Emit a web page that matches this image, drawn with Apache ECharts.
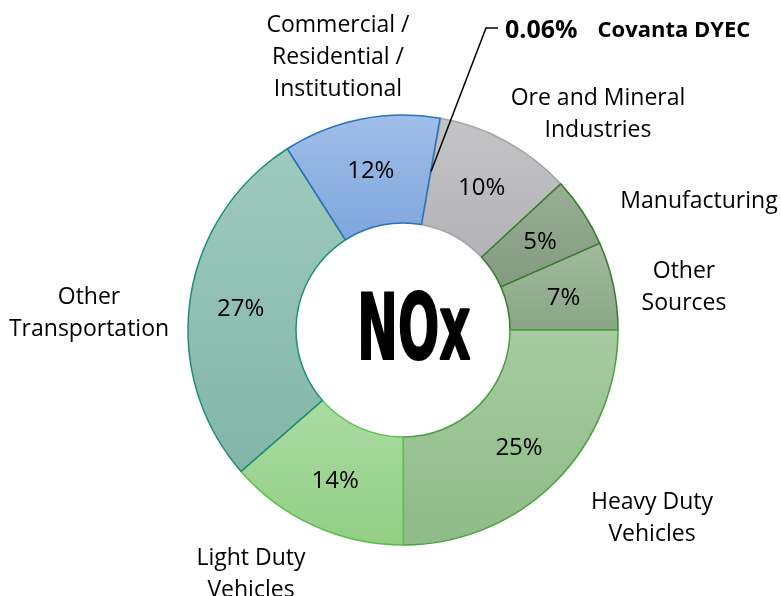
<!DOCTYPE html>
<html>
<head>
<meta charset="utf-8">
<title>NOx sources</title>
<script src="https://cdn.jsdelivr.net/npm/echarts@6/dist/echarts.min.js"></script>
<style>
  html, body { margin: 0; padding: 0; background: #fff; }
  #chart { width: 781px; height: 596px; }
</style>
</head>
<body>
<div id="chart"></div>
<script>
// Slices in clockwise order, starting just right of 12 o'clock
const categories = [
  'Covanta DYEC',
  'Ore and Mineral Industries',
  'Manufacturing',
  'Other Sources',
  'Heavy Duty Vehicles',
  'Light Duty Vehicles',
  'Other Transportation',
  'Commercial / Residential / Institutional'
];
const values = [0.06, 10.3, 5.3, 6.6, 25, 13.6, 27.4, 11.8];
const labelNames = [
  'Covanta DYEC',
  'Ore and Mineral\nIndustries',
  'Manufacturing',
  'Other\nSources',
  'Heavy Duty\nVehicles',
  'Light Duty\nVehicles',
  'Other\nTransportation',
  'Commercial /\nResidential /\nInstitutional'
];

// fill gradients (top, bottom) and outlines
const fillTop = ['#c4c4c7', '#c4c4c7', '#99af95', '#a1bb9c', '#a7cba1', '#abdba3', '#9fcabd', '#a1bee9'];
const fillBottom = ['#b3b3b7', '#b3b3b7', '#849a80', '#8aa686', '#8ebb87', '#92cf84', '#82b6a8', '#7ea6dc'];
const borders = ['#a3a3a3', '#a3a3a3', '#3b7a2f', '#3b7a2f', '#4aa040', '#5cbf4c', '#1a9078', '#2472c0'];

// outside label anchors [x, y, align]
const labelAnchors = [
  [505, 31, 'left'],
  [598, 114],
  [699, 201],
  [684, 287],
  [652, 518],
  [251, 574],
  [89, 313],
  [338, 57]
];

const center = [403, 330];
const radius = [107, 215];
const fontFamily = '"Open Sans", "Noto Sans", sans-serif';

const chart = echarts.init(document.getElementById('chart'));

const total = values.reduce((a, b) => a + b, 0);
// Heavy Duty Vehicles begins at 3 o'clock
const startAngle = 360 * values.slice(0, 4).reduce((a, b) => a + b, 0) / total;

// leader line for the Covanta sliver starts mid-ring
const covMid = (startAngle - 180 * values[0] / total) * Math.PI / 180;
const midR = (radius[0] + radius[1]) / 2;
const covStart = [center[0] + midR * Math.cos(covMid), center[1] - midR * Math.sin(covMid)];

const ringData = values.map((v, i) => ({
  name: categories[i],
  value: v,
  itemStyle: {
    color: {
      type: 'linear', x: 0, y: 0, x2: 0, y2: 1,
      colorStops: [
        { offset: 0, color: fillTop[i] },
        { offset: 1, color: fillBottom[i] }
      ]
    },
    borderColor: borders[i],
    borderWidth: 1.5
  },
  label: { show: i !== 0 }
}));

const outerData = values.map((v, i) => ({
  name: categories[i],
  value: v,
  labelLine: { show: i === 0, lineStyle: { color: '#000', width: 1.5 } }
}));

chart.setOption({
  animation: false,
  backgroundColor: '#fff',
  graphic: [{
    type: 'text',
    x: 414,
    y: 336,
    scaleX: 0.6,
    z: 100,
    style: {
      text: 'NOx',
      fontFamily: '"Liberation Sans Narrow", "DejaVu Sans Condensed", sans-serif',
      fontWeight: 'bold',
      fontSize: 90,
      fill: '#000',
      stroke: '#000',
      lineWidth: 2,
      textAlign: 'center',
      textVerticalAlign: 'middle'
    }
  }],
  series: [
    {
      type: 'pie',
      z: 2,
      center: center,
      radius: radius,
      startAngle: startAngle,
      clockwise: true,
      silent: true,
      avoidLabelOverlap: false,
      label: {
        show: true,
        position: 'inside',
        fontFamily: fontFamily,
        fontSize: 24,
        color: '#000',
        offset: [0, 2],
        formatter: p => Math.round(p.percent) + '%'
      },
      labelLine: { show: false },
      data: ringData
    },
    {
      type: 'pie',
      z: 5,
      center: center,
      radius: radius,
      startAngle: startAngle,
      clockwise: true,
      silent: true,
      avoidLabelOverlap: false,
      itemStyle: { color: 'rgba(0,0,0,0)', borderWidth: 0 },
      label: {
        show: true,
        position: 'outside',
        fontFamily: fontFamily,
        fontSize: 23,
        lineHeight: 32,
        color: '#000',
        align: 'center',
        formatter: p => p.dataIndex === 0
          ? '{v|' + values[0].toFixed(2) + '%}{n|' + labelNames[0] + '}'
          : labelNames[p.dataIndex],
        rich: {
          v: { fontFamily: fontFamily, fontSize: 25, fontWeight: 'bold', color: '#000' },
          n: { fontFamily: fontFamily, fontSize: 22, fontWeight: 'bold', color: '#000', padding: [0, 0, 0, 20] }
        }
      },
      labelLine: { show: false },
      labelLayout: function (params) {
        const a = labelAnchors[params.dataIndex];
        const out = { x: a[0], y: a[1], align: a[2] || 'center', verticalAlign: 'middle' };
        if (params.dataIndex === 0) {
          out.labelLinePoints = [covStart, [486, 28], [498, 28]];
        }
        return out;
      },
      data: outerData
    }
  ]
});
</script>
</body>
</html>
